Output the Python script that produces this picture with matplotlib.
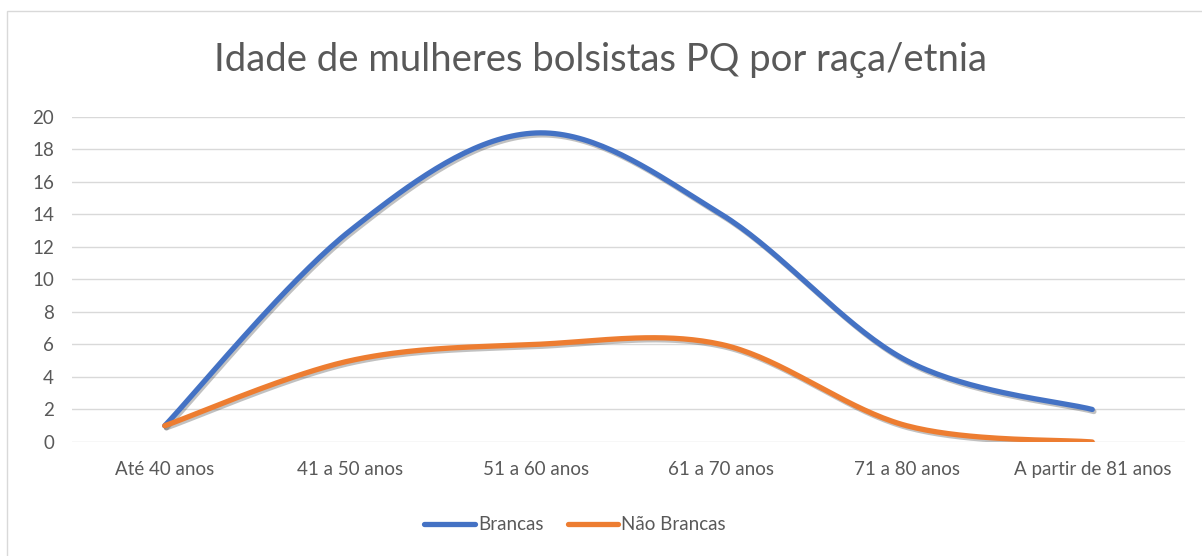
import numpy as np
import matplotlib
matplotlib.use("Agg")
import matplotlib.pyplot as plt
import matplotlib.patheffects as pe
from matplotlib.patches import Rectangle

# data
categorias = ["Até 40 anos", "41 a 50 anos", "51 a 60 anos",
              "61 a 70 anos", "71 a 80 anos", "A partir de 81 anos"]
brancas = [1, 13, 19, 14, 5, 2]
nao_brancas = [1, 5, 6, 6, 1, 0]

plt.rcParams['font.family'] = ['Lato', 'DejaVu Sans']


def suavizar(xs, ys, n=40):
    # bezier smoothing similar to the "smoothed line" option of spreadsheets
    xs = np.asarray(xs, float)
    ys = np.asarray(ys, float)
    px = np.concatenate([[xs[0]], xs, [xs[-1]]])
    py = np.concatenate([[ys[0]], ys, [ys[-1]]])
    out_x, out_y = [], []
    t = np.linspace(0, 1, n)
    for i in range(1, len(px) - 2):
        x0, x1, x2, x3 = px[i - 1], px[i], px[i + 1], px[i + 2]
        y0, y1, y2, y3 = py[i - 1], py[i], py[i + 1], py[i + 2]
        c1x, c1y = x1 + (x2 - x0) / 6, y1 + (y2 - y0) / 6
        c2x, c2y = x2 - (x3 - x1) / 6, y2 - (y3 - y1) / 6
        bx = (1-t)**3*x1 + 3*(1-t)**2*t*c1x + 3*(1-t)*t**2*c2x + t**3*x2
        by = (1-t)**3*y1 + 3*(1-t)**2*t*c1y + 3*(1-t)*t**2*c2y + t**3*y2
        out_x.extend(bx)
        out_y.extend(by)
    return np.array(out_x), np.array(out_y)


fig = plt.figure(figsize=(12.02, 5.56), dpi=100)
fig.patches.append(Rectangle((7 / 1202, -0.1), 1.2, 1 - 11 / 556 + 0.1,
                             transform=fig.transFigure, fill=False,
                             edgecolor='#d9d9d9', lw=1))

ax = fig.add_axes([72 / 1202, 1 - 442 / 556, (1185 - 72) / 1202, (442 - 116.7) / 556])
x = np.arange(len(categorias))

sombra = [pe.SimpleLineShadow(offset=(1.2, -1.5), alpha=0.3, shadow_color='#333333'), pe.Normal()]
for serie, cor, nome in [(brancas, '#4472C4', 'Brancas'), (nao_brancas, '#ED7D31', 'Não Brancas')]:
    sx, sy = suavizar(x, serie)
    ax.plot(sx, sy, color=cor, lw=3.8, solid_capstyle='round', label=nome,
            path_effects=sombra, zorder=3)

ax.set_xlim(-0.5, len(categorias) - 0.5)
ax.set_ylim(0, 20)
ax.set_yticks(range(0, 21, 2))
ax.set_xticks(x)
ax.set_xticklabels(categorias)
ax.tick_params(axis='both', length=0, labelsize=13.5, colors='#595959')
ax.tick_params(axis='y', pad=13)
ax.tick_params(axis='x', pad=14)
ax.grid(axis='y', color='#d9d9d9', lw=1)
ax.set_axisbelow(True)
for s in ax.spines.values():
    s.set_visible(False)

fig.text(0.5, 1 - 60 / 556, "Idade de mulheres bolsistas PQ por raça/etnia",
         ha='center', va='center', fontsize=27.5, color='#595959')

leg = fig.legend(loc='center', bbox_to_anchor=(575 / 1202, 1 - 525 / 556), ncol=2,
                 frameon=False, fontsize=13.5, handlelength=2.7,
                 handletextpad=0.15, columnspacing=1.3)
for t in leg.get_texts():
    t.set_color('#595959')
for h in leg.get_lines():
    h.set_path_effects([pe.Normal()])

fig.savefig("out.png", dpi=100, facecolor='white')
